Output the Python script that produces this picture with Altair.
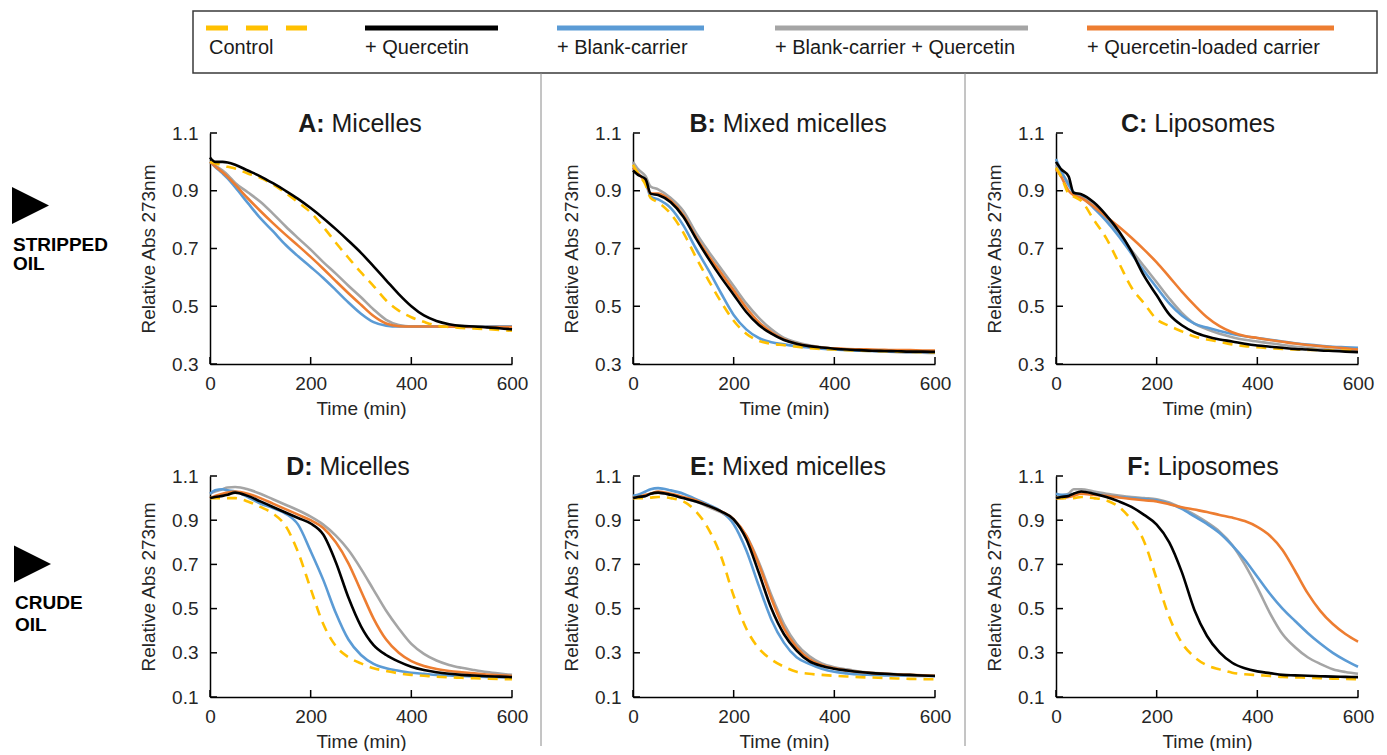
import altair as alt
import pandas as pd

# ---------------- data ----------------
TIMES = [0, 10, 25, 35, 50, 75, 100, 125, 150, 175, 200, 225, 250, 275, 300,
         325, 350, 375, 400, 425, 450, 475, 500, 525, 550, 575, 600]

SERIES = ["Control", "+ Quercetin", "+ Blank-carrier",
          "+ Blank-carrier  + Quercetin", "+ Quercetin-loaded  carrier"]
COLORS = ["#FFC000", "#000000", "#5B9BD5", "#A5A5A5", "#ED7D31"]

X_TICKS = [0, 200, 400, 600]
Y_TICKS_TOP = [0.3, 0.5, 0.7, 0.9, 1.1]
Y_TICKS_BOT = [0.1, 0.3, 0.5, 0.7, 0.9, 1.1]

# Panel A: Micelles (stripped oil)
A_CONTROL = [1.0, .995, .988, .983, .977, .96, .945, .922, .893, .86, .825, .775, .72, .668, .617, .57, .52, .485, .462, .446, .433, .428, .425, .423, .421, .418, .415]
A_QUERC = [1.015, 1.0, 1.0, .998, .99, .97, .95, .926, .9, .872, .84, .805, .767, .727, .685, .638, .59, .542, .5, .468, .449, .438, .432, .43, .427, .424, .42]
A_BLANK = [1.0, .983, .96, .943, .912, .858, .805, .76, .713, .673, .636, .598, .556, .513, .474, .445, .433, .43, .43, .43, .43, .43, .43, .43, .43, .43, .43]
A_BLANKQ = [1.0, .988, .97, .955, .927, .895, .862, .821, .777, .736, .696, .653, .613, .571, .531, .489, .453, .435, .43, .43, .43, .43, .43, .43, .43, .43, .43]
A_LOADED = [1.0, .985, .964, .948, .921, .874, .83, .788, .748, .71, .671, .63, .587, .545, .505, .466, .44, .431, .43, .43, .43, .429, .429, .428, .428, .428, .428]

# Panel B: Mixed micelles (stripped oil)
B_CONTROL = [.99, .96, .92, .875, .86, .82, .755, .67, .59, .515, .45, .405, .38, .37, .365, .36, .355, .352, .35, .348, .346, .345, .344, .343, .342, .341, .34]
B_QUERC = [.97, .955, .94, .89, .885, .86, .81, .735, .665, .6, .54, .48, .435, .405, .383, .37, .362, .357, .353, .35, .348, .346, .345, .344, .343, .343, .342]
B_BLANK = [.98, .96, .93, .88, .87, .84, .78, .70, .625, .545, .47, .42, .39, .375, .368, .362, .357, .353, .35, .348, .346, .345, .344, .343, .342, .342, .341]
B_BLANKQ = [1.0, .975, .95, .915, .905, .875, .83, .755, .69, .63, .57, .51, .46, .42, .39, .375, .365, .358, .353, .35, .347, .345, .343, .341, .34, .339, .338]
B_LOADED = [.98, .96, .93, .89, .89, .865, .815, .74, .675, .615, .555, .495, .445, .41, .385, .37, .362, .357, .354, .352, .351, .35, .349, .348, .348, .347, .347]

# Panel C: Liposomes (stripped oil)
C_CONTROL = [.98, .95, .89, .88, .865, .8, .735, .65, .565, .51, .455, .432, .413, .395, .385, .377, .368, .362, .358, .355, .352, .35, .349, .348, .347, .346, .345]
C_QUERC = [1.0, .975, .95, .893, .888, .86, .815, .76, .69, .605, .538, .472, .434, .41, .395, .385, .378, .37, .364, .36, .356, .352, .35, .347, .345, .343, .341]
C_BLANK = [1.01, .97, .92, .895, .88, .84, .795, .742, .682, .622, .565, .51, .468, .44, .426, .414, .404, .396, .39, .384, .378, .372, .367, .363, .36, .358, .356]
C_BLANKQ = [.99, .965, .925, .895, .885, .85, .805, .752, .694, .638, .583, .527, .477, .44, .42, .405, .393, .384, .378, .372, .366, .36, .356, .352, .349, .346, .344]
C_LOADED = [.975, .95, .9, .885, .875, .845, .81, .775, .737, .696, .652, .602, .551, .504, .462, .431, .41, .397, .39, .383, .377, .371, .366, .362, .358, .354, .35]

# Panel D: Micelles (crude oil)
D_CONTROL = [1.0, 1.0, 1.0, 1.0, 1.0, .985, .96, .93, .875, .755, .59, .43, .33, .28, .252, .23, .218, .207, .2, .196, .192, .189, .187, .185, .183, .181, .18]
D_QUERC = [1.0, 1.005, 1.01, 1.015, 1.025, 1.01, .985, .96, .935, .91, .885, .835, .71, .55, .42, .335, .29, .26, .237, .222, .212, .205, .2, .197, .194, .192, .19]
D_BLANK = [1.02, 1.035, 1.04, 1.035, 1.03, 1.005, .975, .955, .93, .88, .76, .63, .48, .36, .29, .25, .23, .219, .21, .205, .2, .197, .195, .193, .191, .19, .19]
D_BLANKQ = [1.02, 1.03, 1.04, 1.048, 1.05, 1.04, 1.02, .995, .97, .945, .916, .88, .83, .765, .68, .585, .49, .41, .34, .295, .265, .245, .232, .222, .213, .206, .2]
D_LOADED = [1.0, 1.01, 1.02, 1.025, 1.03, 1.02, 1.0, .975, .95, .925, .9, .865, .8, .705, .58, .455, .36, .3, .262, .24, .227, .218, .212, .207, .202, .198, .195]

# Panel E: Mixed micelles (crude oil)
E_CONTROL = [1.0, 1.0, 1.0, 1.002, 1.005, 1.0, .985, .94, .86, .736, .558, .41, .32, .27, .237, .214, .205, .2, .196, .193, .19, .188, .186, .184, .182, .181, .18]
E_QUERC = [1.0, 1.005, 1.01, 1.02, 1.025, 1.015, 1.0, .985, .965, .94, .904, .815, .662, .5, .384, .31, .262, .24, .228, .22, .213, .208, .205, .202, .2, .197, .195]
E_BLANK = [1.01, 1.015, 1.03, 1.04, 1.045, 1.035, 1.02, .995, .97, .94, .882, .764, .603, .45, .345, .28, .25, .228, .214, .207, .202, .2, .198, .197, .196, .195, .195]
E_BLANKQ = [1.0, 1.005, 1.01, 1.02, 1.025, 1.015, 1.0, .985, .96, .935, .9, .83, .71, .56, .43, .34, .285, .252, .235, .225, .215, .21, .206, .203, .2, .198, .196]
E_LOADED = [1.0, 1.005, 1.015, 1.02, 1.03, 1.02, 1.005, .99, .965, .94, .905, .83, .7, .545, .41, .325, .272, .245, .23, .22, .213, .208, .205, .202, .2, .198, .196]

# Panel F: Liposomes (crude oil)
F_CONTROL = [1.0, 1.0, 1.0, 1.0, 1.005, 1.0, .99, .96, .9, .804, .634, .462, .345, .281, .243, .225, .21, .203, .199, .195, .191, .189, .187, .185, .183, .182, .18]
F_QUERC = [1.0, 1.005, 1.01, 1.02, 1.03, 1.02, 1.005, .985, .96, .924, .88, .80, .665, .494, .376, .302, .255, .23, .216, .208, .2, .198, .196, .194, .192, .191, .19]
F_BLANK = [1.02, 1.015, 1.015, 1.02, 1.025, 1.02, 1.01, 1.005, 1.0, .996, .99, .975, .951, .917, .883, .842, .786, .721, .644, .567, .50, .444, .39, .342, .3, .266, .237]
F_BLANKQ = [1.0, 1.01, 1.02, 1.04, 1.04, 1.03, 1.02, 1.012, 1.005, 1.0, .995, .98, .955, .925, .89, .848, .788, .70, .595, .48, .385, .325, .28, .25, .226, .213, .205]
F_LOADED = [1.0, 1.0, 1.005, 1.01, 1.02, 1.015, 1.01, 1.003, .996, .99, .985, .972, .959, .948, .937, .924, .912, .896, .87, .83, .765, .67, .57, .49, .43, .385, .35]

PANEL_TITLES = {"A": ("A:", "Micelles"), "B": ("B:", "Mixed micelles"),
                "C": ("C:", "Liposomes"), "D": ("D:", "Micelles"),
                "E": ("E:", "Mixed micelles"), "F": ("F:", "Liposomes")}

PANEL_DATA = {
    "A": [A_CONTROL, A_QUERC, A_BLANK, A_BLANKQ, A_LOADED],
    "B": [B_CONTROL, B_QUERC, B_BLANK, B_BLANKQ, B_LOADED],
    "C": [C_CONTROL, C_QUERC, C_BLANK, C_BLANKQ, C_LOADED],
    "D": [D_CONTROL, D_QUERC, D_BLANK, D_BLANKQ, D_LOADED],
    "E": [E_CONTROL, E_QUERC, E_BLANK, E_BLANKQ, E_LOADED],
    "F": [F_CONTROL, F_QUERC, F_BLANK, F_BLANKQ, F_LOADED],
}

# ---------------- layout / style ----------------
FONT = "Liberation Sans"
W = 302
H_TOP, H_BOT = 231, 221
ROW_GAP = 112
TITLE_SIZE = 25
TITLE_CENTER = {"A": 150, "B": 155, "C": 142, "D": 138, "E": 155, "F": 147}
DRAW_ORDER = [3, 2, 4, 0, 1]  # gray, blue, orange, control, black

AR = {' ': 278, 'A': 667, 'B': 667, 'C': 722, 'D': 722, 'E': 667, 'F': 611, 'M': 833,
      'L': 556, 'i': 222, 'c': 500, 'e': 556, 'l': 222, 's': 500, 'x': 500, 'd': 556,
      'm': 833, 'p': 556, 'o': 556, ':': 278}
ARB = {'A': 722, 'B': 722, 'C': 722, 'D': 722, 'E': 667, 'F': 611, ':': 333}


def tw(s, table, size):
    return sum(table.get(ch, 556) for ch in s) / 1000.0 * size


def panel(key, ymin, h, yticks):
    xs = alt.Scale(domain=[0, 600], nice=False)
    ys = alt.Scale(domain=[ymin, 1.1], nice=False, zero=False)
    xa = alt.Axis(values=X_TICKS, title="Time (min)", format="d",
                  labelPadding=10, titlePadding=6)
    ya = alt.Axis(values=yticks, title="Relative Abs 273nm", format=".1f",
                  labelPadding=12, titlePadding=13)
    layers = []
    for i in DRAW_ORDER:
        df = pd.DataFrame({"t": TIMES, "v": PANEL_DATA[key][i]})
        kw = dict(color=COLORS[i], strokeWidth=2.6, interpolate="monotone")
        if i == 0:
            kw["strokeDash"] = [10, 7]
        layers.append(
            alt.Chart(df).mark_line(**kw).encode(
                x=alt.X("t:Q", scale=xs, axis=xa),
                y=alt.Y("v:Q", scale=ys, axis=ya),
            )
        )
    # inward tick marks
    layers.append(
        alt.Chart(pd.DataFrame({"v": yticks})).mark_rule(color="black", strokeWidth=1.5).encode(
            y=alt.Y("v:Q", scale=ys, axis=ya), x=alt.value(0), x2=alt.value(7))
    )
    layers.append(
        alt.Chart(pd.DataFrame({"t": X_TICKS})).mark_rule(color="black", strokeWidth=1.5).encode(
            x=alt.X("t:Q", scale=xs, axis=xa), y=alt.value(h), y2=alt.value(h - 7))
    )
    # title: bold letter + normal name
    bold, name = PANEL_TITLES[key]
    wb = tw(bold, ARB, TITLE_SIZE)
    wsp = tw(" ", AR, TITLE_SIZE)
    wn = tw(name, AR, TITLE_SIZE)
    x0 = TITLE_CENTER[key] - (wb + wsp + wn) / 2
    one = pd.DataFrame({"k": [0]})
    layers.append(
        alt.Chart(one).mark_text(text=bold, align="left", baseline="alphabetic",
                                 font=FONT, fontSize=TITLE_SIZE, fontWeight="bold",
                                 color="#1a1a1a").encode(x=alt.value(x0), y=alt.value(-1))
    )
    layers.append(
        alt.Chart(one).mark_text(text=name, align="left", baseline="alphabetic",
                                 font=FONT, fontSize=TITLE_SIZE, color="#1a1a1a").encode(
            x=alt.value(x0 + wb + wsp), y=alt.value(-1))
    )
    return alt.layer(*layers).properties(width=W, height=h)


def side_label(words, h, tri, tx, tys):
    one = pd.DataFrame({"k": [0]})
    layers = [
        alt.Chart(one).mark_point(shape="M -1 -1 L 1 0 L -1 1 Z", filled=True,
                                  color="black", opacity=1, size=1369).encode(
            x=alt.value(tri[0]), y=alt.value(tri[1]))
    ]
    for w, ty in zip(words, tys):
        layers.append(
            alt.Chart(one).mark_text(text=w, align="left", baseline="middle", font=FONT,
                                     fontSize=19, fontWeight="bold", color="black").encode(
                x=alt.value(tx), y=alt.value(ty))
        )
    return alt.layer(*layers).properties(width=81, height=h)


# ---------------- legend + separators ----------------
one = pd.DataFrame({"k": [0]})
leg_layers = [
    alt.Chart(one).mark_rect(fill="white", stroke="#3a3a3a", strokeWidth=1.5).encode(
        x=alt.value(185), x2=alt.value(1369), y=alt.value(3), y2=alt.value(65))
]
LEG_X0 = [198, 357, 549, 767, 1079]
LEG_X1 = [299, 490, 696, 1020, 1326]
LEG_TX = [201, 357, 549, 767, 1079]
for i, name in enumerate(SERIES):
    kw = dict(color=COLORS[i], strokeWidth=5)
    if i == 0:
        kw["strokeDash"] = [22, 18]
    leg_layers.append(
        alt.Chart(one).mark_rule(**kw).encode(
            x=alt.value(LEG_X0[i]), x2=alt.value(LEG_X1[i]), y=alt.value(20))
    )
    leg_layers.append(
        alt.Chart(one).mark_text(text=name, align="left", baseline="alphabetic",
                                 font=FONT, fontSize=20, color="#1a1a1a").encode(
            x=alt.value(LEG_TX[i]), y=alt.value(46))
    )
for sx in [533, 957]:
    leg_layers.append(
        alt.Chart(one).mark_rule(color="#8a8a8a", strokeWidth=1).encode(
            x=alt.value(sx), y=alt.value(65), y2=alt.value(738))
    )
legend = alt.layer(*leg_layers).properties(width=1360, height=70)

row1 = alt.hconcat(
    side_label(["STRIPPED", "OIL"], H_TOP, (22.5, 72.5), 5, [112, 131]),
    panel("A", 0.3, H_TOP, Y_TICKS_TOP),
    panel("B", 0.3, H_TOP, Y_TICKS_TOP),
    panel("C", 0.3, H_TOP, Y_TICKS_TOP),
    spacing=121, bounds="flush",
)
row2 = alt.hconcat(
    side_label(["CRUDE", "OIL"], H_BOT, (24.5, 88), 7, [127, 149]),
    panel("D", 0.1, H_BOT, Y_TICKS_BOT),
    panel("E", 0.1, H_BOT, Y_TICKS_BOT),
    panel("F", 0.1, H_BOT, Y_TICKS_BOT),
    spacing=121, bounds="flush",
)
# a nested concat counts as zero height under flush bounds, so the gap
# includes the first row's plot height
rows = alt.vconcat(row1, row2, spacing=H_TOP + ROW_GAP, bounds="flush")

chart = alt.vconcat(legend, rows, spacing=55, bounds="flush").properties(
    padding=0
).configure_view(strokeWidth=0).configure_axis(
    labelFont=FONT, titleFont=FONT, labelFontSize=19, titleFontSize=19,
    titleFontWeight="normal", labelColor="#262626", titleColor="#262626",
    domainColor="black", domainWidth=1.5, grid=False, ticks=False, tickSize=0,
    labelFlush=False, labelOverlap=False,
)

chart.save("out.html", embed_options={"renderer": "svg", "actions": False})
